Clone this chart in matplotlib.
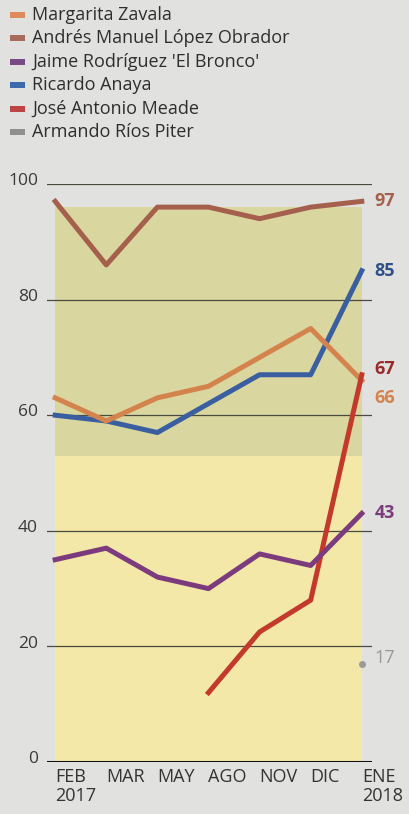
import matplotlib.pyplot as plt
from matplotlib.patches import Rectangle

months = ['FEB\n2017', 'MAR', 'MAY', 'AGO', 'NOV', 'DIC', 'ENE\n2018']
x = list(range(len(months)))

zavala = [63, 59, 63, 65, 70, 75, 66]
amlo = [97, 86, 96, 96, 94, 96, 97]
bronco = [35, 37, 32, 30, 36, 34, 43]
anaya = [60, 59, 57, 62, 67, 67, 85]
meade_x = [3, 4, 5, 6]
meade = [12, 22.5, 28, 67]
rios_x = [6]
rios = [17]
yticks = [0, 20, 40, 60, 80, 100]

names = ['Margarita Zavala', 'Andrés Manuel López Obrador',
         "Jaime Rodríguez 'El Bronco'", 'Ricardo Anaya',
         'José Antonio Meade', 'Armando Ríos Piter']
legend_colors = ['#df8a5c', '#a86a5a', '#7a4a86', '#3d6aa8', '#c04444', '#8f8f8f']

plt.rcParams['font.family'] = ['Open Sans', 'DejaVu Sans']

fig = plt.figure(figsize=(4.1, 8.14), dpi=100)
fig.patch.set_facecolor('#e1e1df')
ax = fig.add_axes([47 / 410, 52 / 814, 325 / 410, 578 / 814])
ax.set_facecolor('none')
ax.set_xlim(-0.16, 6.2)
ax.set_ylim(0, 100)

# background boxes (yellow panel)
ax.add_patch(Rectangle((0, 0), 6, 53, color='#f3e8a8', zorder=0, lw=0))
ax.add_patch(Rectangle((0, 53), 6, 43, color='#d9d6a0', zorder=0, lw=0))

# grid lines
for g in yticks[1:]:
    ax.axhline(g, color='#4a4a40', lw=0.9, zorder=1)
ax.axhline(0, color='#111111', lw=2.2, zorder=1)

lw = 3.6
ax.plot(x, anaya, color='#3a5fa0', lw=lw, zorder=3)
ax.plot(x, zavala, color='#d4834c', lw=lw, zorder=4)
ax.plot(x, amlo, color='#a5604d', lw=lw, zorder=4)
ax.plot(meade_x, meade, color='#c33a2c', lw=lw, zorder=5)
ax.plot(x, bronco, color='#7b3b7d', lw=lw, zorder=6)
ax.plot(rios_x, rios, 'o', color='#9a9a9a', ms=4, zorder=6)

# end labels
ends = [(amlo[-1], 97, '#a5604d', 'bold'),
        (anaya[-1], 85, '#2f4f8a', 'bold'),
        (meade[-1] + 1, 67, '#9a2a2a', 'bold'),
        (zavala[-1] - 3, 66, '#d4834c', 'bold'),
        (bronco[-1], 43, '#7b3b7d', 'bold'),
        (rios[-1] + 1, 17, '#999999', 'normal')]
for yv, txt, col, w in ends:
    ax.annotate(str(txt), (6, yv), xytext=(9, 0), textcoords='offset points',
                ha='left', va='center', color=col, fontsize=13,
                fontweight=w, annotation_clip=False)

# y labels sit a little above their gridlines
ax.set_yticks([])
for g in yticks:
    ax.text(-9 / 325, g + 0.5, str(g), transform=ax.get_yaxis_transform(),
            ha='right', va='center', color='#3a3a3a', fontsize=12.5)
ax.set_xticks(x)
ax.set_xticklabels(months, color='#333333', fontsize=13, ha='left', linespacing=1.1)
ax.tick_params(length=0)
ax.tick_params(axis='x', pad=4)
for s in ax.spines.values():
    s.set_visible(False)

# legend at the top
for i, (n, c) in enumerate(zip(names, legend_colors)):
    ytop = 15 + i * 23.4
    fig.patches.append(Rectangle((10 / 410, 1 - (ytop + 3) / 814), 15 / 410, 6 / 814,
                                 transform=fig.transFigure, color=c, lw=0))
    fig.text(32 / 410, 1 - ytop / 814, n, ha='left', va='center',
             fontsize=13, fontweight='medium', color='#2e2e2e')

fig.savefig('out.png', dpi=100, facecolor=fig.get_facecolor())
